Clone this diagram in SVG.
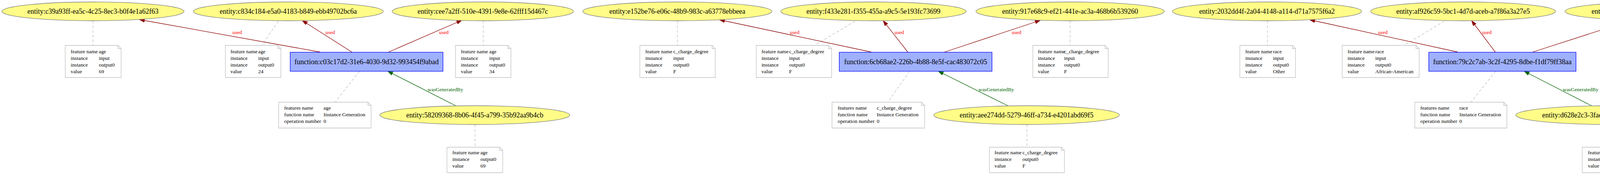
<svg xmlns="http://www.w3.org/2000/svg" width="4505" height="447" viewBox="0 0 4505 447">
<style>
.ent{fill:#FFFC87;stroke:#808080;stroke-width:1.3}
.act{fill:#9FB1FC;stroke:#0000FF;stroke-width:1.3}
.note{fill:#ffffff;stroke:#c0c0c0;stroke-width:1.3}
.fold{fill:none;stroke:#c0c0c0;stroke-width:1.3}
.t{font-family:"Liberation Serif","Times New Roman",serif;font-size:18px;fill:#000;text-anchor:middle}
.n{font-family:"Liberation Serif","Times New Roman",serif;font-size:13.33px;fill:#000}
.used{stroke:#8B0000;stroke-width:1.3;fill:none;marker-end:url(#ar)}
.wgb{stroke:#006400;stroke-width:1.3;fill:none;marker-end:url(#ag)}
.ann{stroke:#c0c0c0;stroke-width:1.3;fill:none;stroke-dasharray:7,5}
.lu{font-family:"Liberation Serif","Times New Roman",serif;font-size:13.33px;fill:#ff0000}
.lg{font-family:"Liberation Serif","Times New Roman",serif;font-size:13.33px;fill:#006400}
</style>
<defs>
<marker id="ar" markerUnits="userSpaceOnUse" markerWidth="14" markerHeight="10" refX="13.3" refY="4.67" orient="auto"><path d="M0,0 L13.3,4.67 L0,9.33 z" fill="#8B0000" stroke="#8B0000"/></marker>
<marker id="ag" markerUnits="userSpaceOnUse" markerWidth="14" markerHeight="10" refX="13.3" refY="4.67" orient="auto"><path d="M0,0 L13.3,4.67 L0,9.33 z" fill="#006400" stroke="#006400"/></marker>
</defs>
<rect width="4505" height="447" fill="#ffffff"/>

<g id="connectors">
<line class="ann" x1="238" y1="53" x2="238" y2="116"/>
<line class="ann" x1="712.5" y1="54" x2="670" y2="116"/>
<line class="ann" x1="1237" y1="53" x2="1237" y2="116"/>
<line class="ann" x1="920" y1="182" x2="858" y2="261"/>
<line class="ann" x1="1216" y1="318" x2="1216" y2="376"/>
<line class="used" x1="819.6" y1="133" x2="357" y2="50"/>
<line class="used" x1="900.7" y1="133" x2="774" y2="52.5"/>
<line class="used" x1="994.6" y1="133" x2="1182" y2="52"/>
<line class="wgb" x1="1166.5" y1="270" x2="992.8" y2="182"/>
<text class="lu" x="595" y="87">used</text>
<text class="lu" x="833" y="87">used</text>
<text class="lu" x="1124" y="87">used</text>
<text class="lg" x="1094.6" y="232.5">wasGeneratedBy</text>

<line class="ann" x1="1734" y1="53" x2="1734" y2="116"/>
<line class="ann" x1="2189" y1="54" x2="2085" y2="116"/>
<line class="ann" x1="2739.5" y1="53" x2="2739.5" y2="116"/>
<line class="ann" x1="2328.6" y1="182" x2="2272.8" y2="261"/>
<line class="ann" x1="2629" y1="318" x2="2629" y2="376"/>
<line class="used" x1="2230.6" y1="133" x2="1842" y2="50.5"/>
<line class="used" x1="2324" y1="133" x2="2261" y2="53"/>
<line class="used" x1="2418" y1="133" x2="2663" y2="52"/>
<line class="wgb" x1="2580" y1="270" x2="2402" y2="182"/>
<text class="lu" x="2022" y="87">used</text>
<text class="lu" x="2290" y="87">used</text>
<text class="lu" x="2590" y="87">used</text>
<text class="lg" x="2505" y="232.5">wasGeneratedBy</text>

<line class="ann" x1="3244.4" y1="53" x2="3244.4" y2="116"/>
<line class="ann" x1="3697.6" y1="54" x2="3594" y2="116"/>
<line class="ann" x1="4252.7" y1="53" x2="4252.7" y2="116"/>
<line class="ann" x1="3828.6" y1="182" x2="3765.7" y2="261"/>
<line class="ann" x1="4122.5" y1="318" x2="4122.5" y2="376"/>
<line class="used" x1="3732" y1="133" x2="3353" y2="50.5"/>
<line class="used" x1="3828" y1="133" x2="3767.4" y2="53"/>
<line class="used" x1="3923.6" y1="133" x2="4175.4" y2="52"/>
<line class="wgb" x1="4074" y1="270" x2="3902" y2="182"/>
<text class="lu" x="3527.7" y="87">used</text>
<text class="lu" x="3794" y="87">used</text>
<text class="lu" x="4098" y="87">used</text>
<text class="lg" x="4000.8" y="232.5">wasGeneratedBy</text>
</g>

<!-- Cluster 1 -->
<g id="entity-c39a93ff"><ellipse class="ent" cx="238" cy="29" rx="233" ry="24"/><text class="t" x="238" y="35">entity:c39a93ff-ea5c-4c25-8ec3-b0f4e1a62f63</text></g>
<g id="entity-c834c184"><ellipse class="ent" cx="738" cy="29" rx="243" ry="24"/><text class="t" x="738" y="35">entity:c834c184-e5a0-4183-b849-ebb49702bc6a</text></g>
<g id="entity-cee7a2ff"><ellipse class="ent" cx="1236" cy="29" rx="232" ry="24"/><text class="t" x="1236" y="35">entity:cee7a2ff-510e-4391-9e8e-62fff15d467c</text></g>
<g id="function-c03c17d2"><rect class="act" x="743" y="133.5" width="391" height="48.5"/><text class="t" x="938.5" y="163.5">function:c03c17d2-31e6-4030-9d32-993454f9abad</text></g>
<g id="entity-58209368"><ellipse class="ent" cx="1215.5" cy="294" rx="243" ry="24"/><text class="t" x="1215.5" y="300">entity:58209368-8b06-4f45-a799-35b92aa9b4cb</text></g>

<g id="note-c39a93ff"><path class="note" d="M167,116 L302,116 L310,124 L310,198 L167,198 Z"/><path class="fold" d="M302,116 L302,124 L310,124"/>
<text class="n" x="181" y="135.5">feature name</text><text class="n" x="253" y="135.5">age</text>
<text class="n" x="181" y="152.5">instance</text><text class="n" x="253" y="152.5">input</text>
<text class="n" x="181" y="169.5">instance</text><text class="n" x="253" y="169.5">output0</text>
<text class="n" x="181" y="186.5">value</text><text class="n" x="253" y="186.5">69</text></g>
<g id="note-c834c184"><path class="note" d="M577,116 L711,116 L719,124 L719,198 L577,198 Z"/><path class="fold" d="M711,116 L711,124 L719,124"/>
<text class="n" x="590" y="135.5">feature name</text><text class="n" x="661" y="135.5">age</text>
<text class="n" x="590" y="152.5">instance</text><text class="n" x="661" y="152.5">input</text>
<text class="n" x="590" y="169.5">instance</text><text class="n" x="661" y="169.5">output0</text>
<text class="n" x="590" y="186.5">value</text><text class="n" x="661" y="186.5">24</text></g>
<g id="note-cee7a2ff"><path class="note" d="M1166,116 L1300,116 L1308,124 L1308,198 L1166,198 Z"/><path class="fold" d="M1300,116 L1300,124 L1308,124"/>
<text class="n" x="1180" y="135.5">feature name</text><text class="n" x="1252.5" y="135.5">age</text>
<text class="n" x="1180" y="152.5">instance</text><text class="n" x="1252.5" y="152.5">input</text>
<text class="n" x="1180" y="169.5">instance</text><text class="n" x="1252.5" y="169.5">output0</text>
<text class="n" x="1180" y="186.5">value</text><text class="n" x="1252.5" y="186.5">34</text></g>
<g id="note-function-c03c17d2"><path class="note" d="M713.4,261 L942,261 L950,269 L950,327 L713.4,327 Z"/><path class="fold" d="M942,261 L942,269 L950,269"/>
<text class="n" x="727.6" y="280">features name</text><text class="n" x="828.3" y="280">age</text>
<text class="n" x="727.6" y="297">function name</text><text class="n" x="828.3" y="297">Instance Generation</text>
<text class="n" x="727.6" y="314">operation number</text><text class="n" x="828.3" y="314">0</text></g>
<g id="note-58209368"><path class="note" d="M1144.3,376 L1279,376 L1287,384 L1287,441 L1144.3,441 Z"/><path class="fold" d="M1279,376 L1279,384 L1287,384"/>
<text class="n" x="1158" y="393.5">feature name</text><text class="n" x="1229.7" y="393.5">age</text>
<text class="n" x="1158" y="410.5">instance</text><text class="n" x="1229.7" y="410.5">output0</text>
<text class="n" x="1158" y="427.5">value</text><text class="n" x="1229.7" y="427.5">69</text></g>

<!-- Cluster 2 -->
<g id="entity-e152be76"><ellipse class="ent" cx="1734" cy="29" rx="242" ry="24"/><text class="t" x="1734" y="35">entity:e152be76-e06c-48b9-983c-a63778ebbeea</text></g>
<g id="entity-f433e281"><ellipse class="ent" cx="2236" cy="29" rx="237" ry="24"/><text class="t" x="2236" y="35">entity:f433e281-f355-455a-a9c5-5e193fc73699</text></g>
<g id="entity-917e68c9"><ellipse class="ent" cx="2739.5" cy="29" rx="241" ry="24"/><text class="t" x="2739.5" y="35">entity:917e68c9-ef21-441e-ac3a-468b6b539260</text></g>
<g id="function-6cb68ae2"><rect class="act" x="2148.5" y="133.5" width="391" height="48.5"/><text class="t" x="2344" y="163.5">function:6cb68ae2-226b-4b88-8e5f-cac483072c05</text></g>
<g id="entity-aee274dd"><ellipse class="ent" cx="2628" cy="294" rx="237.5" ry="24"/><text class="t" x="2628" y="300">entity:aee274dd-5279-46ff-a734-e4201abd69f5</text></g>

<g id="note-e152be76"><path class="note" d="M1638,116 L1823,116 L1831,124 L1831,198 L1638,198 Z"/><path class="fold" d="M1823,116 L1823,124 L1831,124"/>
<text class="n" x="1652" y="135.5">feature name</text><text class="n" x="1723.6" y="135.5">c_charge_degree</text>
<text class="n" x="1652" y="152.5">instance</text><text class="n" x="1723.6" y="152.5">input</text>
<text class="n" x="1652" y="169.5">instance</text><text class="n" x="1723.6" y="169.5">output0</text>
<text class="n" x="1652" y="186.5">value</text><text class="n" x="1723.6" y="186.5">F</text></g>
<g id="note-f433e281"><path class="note" d="M1936,116 L2121,116 L2129,124 L2129,198 L1936,198 Z"/><path class="fold" d="M2121,116 L2121,124 L2129,124"/>
<text class="n" x="1949.4" y="135.5">feature name</text><text class="n" x="2020" y="135.5">c_charge_degree</text>
<text class="n" x="1949.4" y="152.5">instance</text><text class="n" x="2020" y="152.5">input</text>
<text class="n" x="1949.4" y="169.5">instance</text><text class="n" x="2020" y="169.5">output0</text>
<text class="n" x="1949.4" y="186.5">value</text><text class="n" x="2020" y="186.5">F</text></g>
<g id="note-917e68c9"><path class="note" d="M2644,116 L2829,116 L2837,124 L2837,198 L2644,198 Z"/><path class="fold" d="M2829,116 L2829,124 L2837,124"/>
<text class="n" x="2657" y="135.5">feature name</text><text class="n" x="2724" y="135.5">c_charge_degree</text>
<text class="n" x="2657" y="152.5">instance</text><text class="n" x="2724" y="152.5">input</text>
<text class="n" x="2657" y="169.5">instance</text><text class="n" x="2724" y="169.5">output0</text>
<text class="n" x="2657" y="186.5">value</text><text class="n" x="2724" y="186.5">F</text></g>
<g id="note-function-6cb68ae2"><path class="note" d="M2130,261 L2359,261 L2367,269 L2367,327 L2130,327 Z"/><path class="fold" d="M2359,261 L2359,269 L2367,269"/>
<text class="n" x="2144.5" y="280">features name</text><text class="n" x="2244.6" y="280">c_charge_degree</text>
<text class="n" x="2144.5" y="297">function name</text><text class="n" x="2244.6" y="297">Instance Generation</text>
<text class="n" x="2144.5" y="314">operation number</text><text class="n" x="2244.6" y="314">0</text></g>
<g id="note-aee274dd"><path class="note" d="M2533,376 L2717,376 L2725,384 L2725,441 L2533,441 Z"/><path class="fold" d="M2717,376 L2717,384 L2725,384"/>
<text class="n" x="2546" y="393.5">feature name</text><text class="n" x="2617.4" y="393.5">c_charge_degree</text>
<text class="n" x="2546" y="410.5">instance</text><text class="n" x="2617.4" y="410.5">output0</text>
<text class="n" x="2546" y="427.5">value</text><text class="n" x="2617.4" y="427.5">F</text></g>

<!-- Cluster 3 -->
<g id="entity-2032dd4f"><ellipse class="ent" cx="3243.5" cy="29" rx="242" ry="24"/><text class="t" x="3243.5" y="35">entity:2032dd4f-2a04-4148-a114-d71a7575f6a2</text></g>
<g id="entity-af926c59"><ellipse class="ent" cx="3745.5" cy="29" rx="236.5" ry="24"/><text class="t" x="3745.5" y="35">entity:af926c59-5bc1-4d7d-aceb-a7f86a3a27e5</text></g>
<g id="entity-1e36836b"><ellipse class="ent" cx="4252.5" cy="29" rx="246" ry="24"/><text class="t" x="4252.5" y="35">entity:1e36836b-7644-4342-b922-b1d477b02b9c</text></g>
<g id="function-79c2c7ab"><rect class="act" x="3657.7" y="133.5" width="376.8" height="48.5"/><text class="t" x="3846" y="163.5">function:79c2c7ab-3c2f-4295-8dbe-f1df79ff38aa</text></g>
<g id="entity-d628e2c3"><ellipse class="ent" cx="4122.5" cy="294" rx="242" ry="24"/><text class="t" x="4122.5" y="300">entity:d628e2c3-3fac-406a-adb7-5987676216d5</text></g>

<g id="note-2032dd4f"><path class="note" d="M3174,116 L3308.5,116 L3316.5,124 L3316.5,198 L3174,198 Z"/><path class="fold" d="M3308.5,116 L3308.5,124 L3316.5,124"/>
<text class="n" x="3188" y="135.5">feature name</text><text class="n" x="3259" y="135.5">race</text>
<text class="n" x="3188" y="152.5">instance</text><text class="n" x="3259" y="152.5">input</text>
<text class="n" x="3188" y="169.5">instance</text><text class="n" x="3259" y="169.5">output0</text>
<text class="n" x="3188" y="186.5">value</text><text class="n" x="3259" y="186.5">Other</text></g>
<g id="note-af926c59"><path class="note" d="M3436,116 L3625,116 L3633,124 L3633,198 L3436,198 Z"/><path class="fold" d="M3625,116 L3625,124 L3633,124"/>
<text class="n" x="3449.7" y="135.5">feature name</text><text class="n" x="3520.8" y="135.5">race</text>
<text class="n" x="3449.7" y="152.5">instance</text><text class="n" x="3520.8" y="152.5">input</text>
<text class="n" x="3449.7" y="169.5">instance</text><text class="n" x="3520.8" y="169.5">output0</text>
<text class="n" x="3449.7" y="186.5">value</text><text class="n" x="3520.8" y="186.5">African-American</text></g>
<g id="note-1e36836b"><path class="note" d="M4155,116 L4344,116 L4352,124 L4352,198 L4155,198 Z"/><path class="fold" d="M4344,116 L4344,124 L4352,124"/>
<text class="n" x="4167.8" y="135.5">feature name</text><text class="n" x="4239.7" y="135.5">race</text>
<text class="n" x="4167.8" y="152.5">instance</text><text class="n" x="4239.7" y="152.5">input</text>
<text class="n" x="4167.8" y="169.5">instance</text><text class="n" x="4239.7" y="169.5">output0</text>
<text class="n" x="4167.8" y="186.5">value</text><text class="n" x="4239.7" y="186.5">African-American</text></g>
<g id="note-function-79c2c7ab"><path class="note" d="M3622,261 L3849.6,261 L3857.6,269 L3857.6,327 L3622,327 Z"/><path class="fold" d="M3849.6,261 L3849.6,269 L3857.6,269"/>
<text class="n" x="3636" y="280">features name</text><text class="n" x="3736" y="280">race</text>
<text class="n" x="3636" y="297">function name</text><text class="n" x="3736" y="297">Instance Generation</text>
<text class="n" x="3636" y="314">operation number</text><text class="n" x="3736" y="314">0</text></g>
<g id="note-d628e2c3"><path class="note" d="M4050.4,376 L4185.7,376 L4193.7,384 L4193.7,441 L4050.4,441 Z"/><path class="fold" d="M4185.7,376 L4185.7,384 L4193.7,384"/>
<text class="n" x="4065" y="393.5">feature name</text><text class="n" x="4136.3" y="393.5">race</text>
<text class="n" x="4065" y="410.5">instance</text><text class="n" x="4136.3" y="410.5">output0</text>
<text class="n" x="4065" y="427.5">value</text><text class="n" x="4136.3" y="427.5">Other</text></g>
</svg>
